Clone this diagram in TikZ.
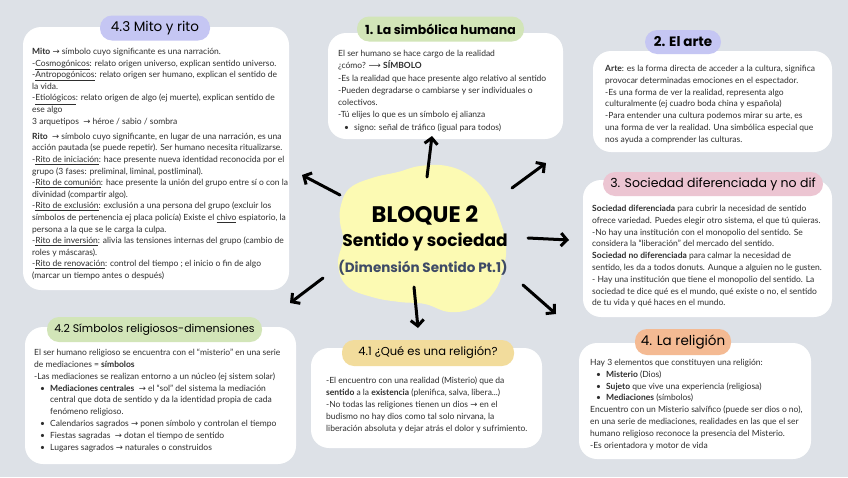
\documentclass[tikz,border=0pt]{standalone}
\usepackage{fontspec}
\setmainfont{Lato}
\newfontfamily\titulo{Poppins}
\newfontfamily\flechas{DejaVu Sans}
\usetikzlibrary{arrows.meta}

\definecolor{fondo}{HTML}{DDE1E7}
\definecolor{lavanda}{HTML}{C5C6F3}
\definecolor{verde}{HTML}{D2E5B8}
\definecolor{rosa}{HTML}{ECC5D2}
\definecolor{naranja}{HTML}{F4BA93}
\definecolor{amarillo}{HTML}{F2DC9C}
\definecolor{mancha}{HTML}{FCFAB3}
\definecolor{pizarra}{HTML}{3E4A66}
\definecolor{tinta}{HTML}{2E2E2E}

\newcommand{\fl}{{\flechas →}}
\newcommand{\cuerpo}{\fontsize{8.5}{11.8}\selectfont}

\begin{document}
\begin{tikzpicture}[x=1pt, y=-1pt, line join=round, line cap=round,
  cajon/.style={fill=white, rounded corners=18pt, inner sep=0pt},
  pildora/.style={rounded corners=12pt, inner sep=0pt, minimum height=25pt},
  texto/.style={anchor=north west, align=left, inner sep=0pt, text=tinta, font=\cuerpo},
  flecha/.style={line width=3pt, -{Straight Barb[length=6pt, width=13pt]}}]

  % Fondo
  \fill[fondo] (0,0) rectangle (848,477);
  \useasboundingbox (0,0) rectangle (848,477);

  % Cajas blancas
  \node[cajon, minimum width=266pt, minimum height=263pt] (mito) at (156,158.5) {};
  \node[cajon, minimum width=235pt, minimum height=106pt] (simbolica) at (445.5,86) {};
  \node[cajon, minimum width=239pt, minimum height=101pt] (arte) at (712.5,101.5) {};
  \node[cajon, minimum width=249pt, minimum height=137pt] (sociedad) at (707.5,248.5) {};
  \node[cajon, minimum width=232pt, minimum height=116pt] (religion) at (695,401) {};
  \node[cajon, minimum width=271pt, minimum height=137pt] (simbolos) at (160.5,395.5) {};
  \node[cajon, minimum width=231pt, minimum height=100pt] (quees) at (426.5,398) {};

  % Titulos
  \node[pildora, fill=lavanda, minimum width=110pt, font=\titulo\fontsize{13.5}{15}\selectfont] (tmito) at (155,28) {4.3 Mito y rito};
  \node[pildora, fill=verde, minimum width=167pt, font=\titulo\bfseries\fontsize{12.5}{14}\selectfont] (tsimbolica) at (440.5,29) {1. La simbólica humana};
  \node[pildora, fill=lavanda, minimum width=76pt, minimum height=24pt, font=\titulo\bfseries\fontsize{13.5}{15}\selectfont] (tarte) at (683,42) {2. El arte};
  \node[pildora, fill=rosa, minimum width=220pt, minimum height=24pt, font=\titulo\fontsize{12.5}{14}\selectfont] (tsociedad) at (713,184) {3. Sociedad diferenciada y no dif};
  \node[pildora, fill=naranja, minimum width=96pt, minimum height=26pt, font=\titulo\fontsize{13.5}{15}\selectfont] (treligion) at (683,342) {4. La religión};
  \node[pildora, fill=verde, minimum width=215pt, font=\titulo\fontsize{11}{13}\selectfont] (tsimbolos) at (154.5,329.5) {4.2 Símbolos religiosos-dimensiones};
  \node[pildora, fill=amarillo, minimum width=172pt, minimum height=26pt, font=\titulo\fontsize{11.5}{13}\selectfont] (tquees) at (428,353) {4.1 ¿Qué es una religión?};

  % Textos
  \node[texto, font=\fontsize{8.5}{11.6}\selectfont] (xmito) at (32,48) {%
    \textbf{Mito} \fl{} símbolo cuyo significante es una narración.\\
    -\underline{Cosmogónicos}: relato origen universo, explican sentido universo.\\
    -\underline{Antropogónicos}: relato origen ser humano, explican el sentido de\\
    la vida.\\
    -\underline{Etiológicos}: relato origen de algo (ej muerte), explican sentido de\\
    ese algo\\
    3 arquetipos \ \fl{} héroe / sabio / sombra\\[3.5pt]
    \textbf{Rito} \ \fl{} símbolo cuyo significante, en lugar de una narración, es una\\
    acción pautada (se puede repetir). Ser humano necesita ritualizarse.\\
    -\underline{Rito de iniciación}: hace presente nueva identidad reconocida por el\\
    grupo (3 fases: preliminal, liminal, postliminal).\\
    -\underline{Rito de comunión}: hace presente la unión del grupo entre sí o con la\\
    divinidad (compartir algo).\\
    -\underline{Rito de exclusión}: exclusión a una persona del grupo (excluir los\\
    símbolos de pertenencia ej placa policía) Existe el \underline{chivo} espiatorio, la\\
    persona a la que se le carga la culpa.\\
    -\underline{Rito de inversión}: alivia las tensiones internas del grupo (cambio de\\
    roles y máscaras).\\
    -\underline{Rito de renovación}: control del tiempo ; el inicio o fin de algo\\
    (marcar un tiempo antes o después)};

  \node[texto, font=\fontsize{8.5}{12.3}\selectfont] (xsimbolica) at (338,50) {%
    El ser humano se hace cargo de la realidad\\
    ¿cómo? {\flechas ⟶} \textbf{SÍMBOLO}\\
    -Es la realidad que hace presente algo relativo al sentido\\
    -Pueden degradarse o cambiarse y ser individuales o\\
    colectivos.\\
    -Tú elijes lo que es un símbolo ej alianza\\
    \hspace*{6pt}\textbullet\hspace{5pt}signo: señal de tráfico (igual para todos)};

  \node[texto] (xarte) at (605,65) {%
    \textbf{Arte}: es la forma directa de acceder a la cultura, significa\\
    provocar determinadas emociones en el espectador.\\
    -Es una forma de ver la realidad, representa algo\\
    culturalmente (ej cuadro boda china y española)\\
    -Para entender una cultura podemos mirar su arte, es\\
    una forma de ver la realidad. Una simbólica especial que\\
    nos ayuda a comprender las culturas.};

  \node[texto] (xsociedad) at (592,205) {%
    \textbf{Sociedad diferenciada} para cubrir la necesidad de sentido\\
    ofrece variedad. Puedes elegir otro sistema, el que tú quieras.\\
    -No hay una institución con el monopolio del sentido. Se\\
    considera la “liberación” del mercado del sentido.\\
    \textbf{Sociedad no diferenciada} para calmar la necesidad de\\
    sentido, les da a todos donuts. Aunque a alguien no le gusten.\\
    - Hay una institución que tiene el monopolio del sentido. La\\
    sociedad te dice qué es el mundo, qué existe o no, el sentido\\
    de tu vida y qué haces en el mundo.};

  \node[texto] (xreligion) at (590,359) {%
    Hay 3 elementos que constituyen una religión:\\
    \hspace*{6pt}\textbullet\hspace{5pt}\textbf{Misterio} (Dios)\\
    \hspace*{6pt}\textbullet\hspace{5pt}\textbf{Sujeto} que vive una experiencia (religiosa)\\
    \hspace*{6pt}\textbullet\hspace{5pt}\textbf{Mediaciones} (símbolos)\\
    Encuentro con un Misterio salvífico (puede ser dios o no),\\
    en una serie de mediaciones, realidades en las que el ser\\
    humano religioso reconoce la presencia del Misterio.\\
    -Es orientadora y motor de vida};

  \node[texto] (xsimbolos) at (34,349) {%
    El ser humano religioso se encuentra con el “misterio” en una serie\\
    de mediaciones = \textbf{símbolos}\\
    -Las mediaciones se realizan entorno a un núcleo (ej sistem solar)\\
    \hspace*{6pt}\textbullet\hspace{5pt}\textbf{Mediaciones centrales} \ \fl{} el “sol” del sistema la mediación\\
    \hspace*{16pt}central que dota de sentido y da la identidad propia de cada\\
    \hspace*{16pt}fenómeno religioso.\\
    \hspace*{6pt}\textbullet\hspace{5pt}Calendarios sagrados \fl{} ponen símbolo y controlan el tiempo\\
    \hspace*{6pt}\textbullet\hspace{5pt}Fiestas sagradas \ \fl{} dotan el tiempo de sentido\\
    \hspace*{6pt}\textbullet\hspace{5pt}Lugares sagrados \fl{} naturales o construidos};

  \node[texto, font=\fontsize{8.5}{12}\selectfont] (xquees) at (326,377) {%
    -El encuentro con una realidad (Misterio) que da\\
    \textbf{sentido} a la \textbf{existencia} (plenifica, salva, libera...)\\
    -No todas las religiones tienen un dios \fl{} en el\\
    budismo no hay dios como tal solo nirvana, la\\
    liberación absoluta y dejar atrás el dolor y sufrimiento.};

  % Mancha central
  \fill[mancha] plot[smooth cycle, tension=0.7] coordinates {
    (341,205) (350,188) (372,178) (398,172) (420,166) (447,166) (470,176)
    (488,194) (499,218) (506,245) (503,270) (494,292) (476,307) (450,312)
    (425,304) (400,302) (372,297) (347,286) (338,264) (343,240) (340,222)};
  \node[font=\titulo\bfseries\fontsize{22.5}{24}\selectfont] (bloque) at (425,215) {BLOQUE 2};
  \node[font=\titulo\bfseries\fontsize{17}{19}\selectfont] (sentido) at (425,242) {Sentido y sociedad};
  \node[font=\titulo\bfseries\fontsize{13.5}{15}\selectfont, text=pizarra] (dimension) at (423,268) {(Dimensión Sentido Pt.1)};

  % Flechas
  \coordinate (s1) at (427,177); \coordinate (e1) at (432,136);
  \coordinate (s2) at (340,195); \coordinate (e2) at (302,175);
  \coordinate (s3) at (512,188); \coordinate (e3) at (546,163);
  \coordinate (s4) at (528,238); \coordinate (e4) at (569,240);
  \coordinate (s5) at (523,285); \coordinate (e5) at (556,314);
  \coordinate (s6) at (414,287); \coordinate (e6) at (418,328);
  \coordinate (s7) at (323,278); \coordinate (e7) at (290,303);
  \draw[flecha] (s1) -- (e1);
  \draw[flecha] (s2) -- (e2);
  \draw[flecha] (s3) -- (e3);
  \draw[flecha] (s4) -- (e4);
  \draw[flecha] (s5) -- (e5);
  \draw[flecha] (s6) -- (e6);
  \draw[flecha] (s7) -- (e7);
\end{tikzpicture}
\end{document}
